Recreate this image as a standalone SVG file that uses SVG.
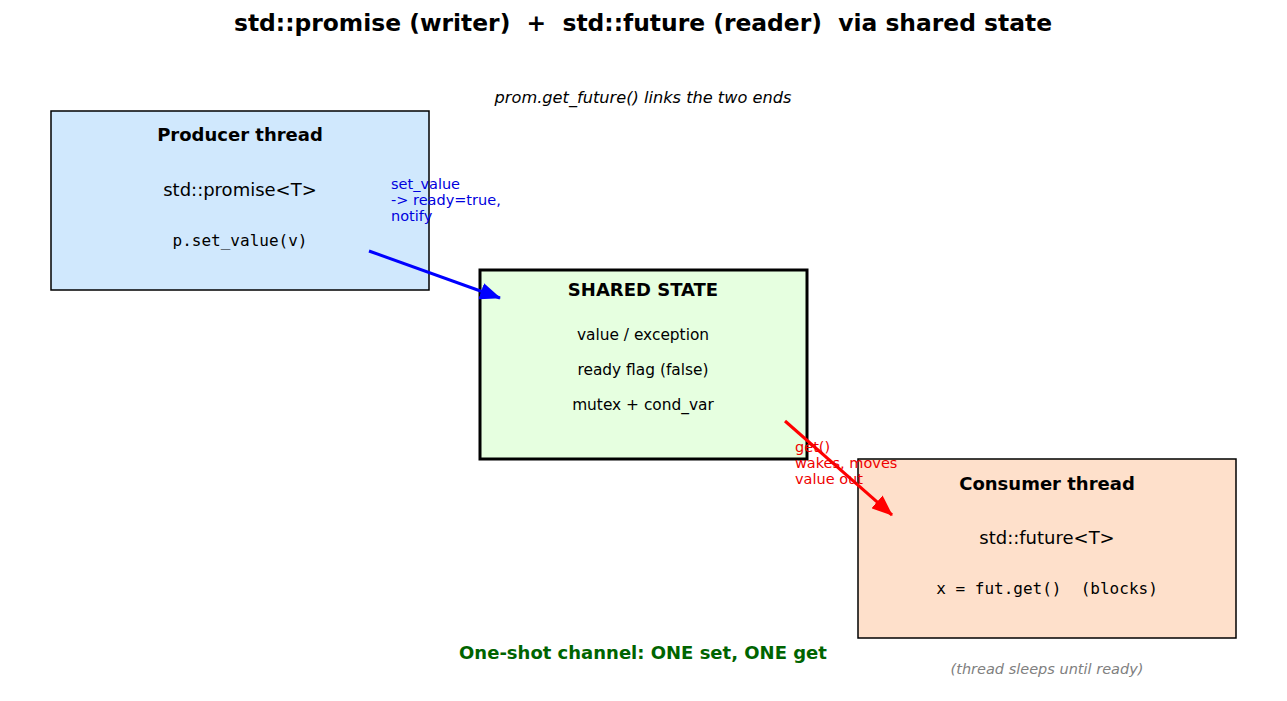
<svg xmlns="http://www.w3.org/2000/svg" width="1287" height="701" viewBox="0 0 1287 701" xml:space="preserve">
<style>
text{font-family:"DejaVu Sans",sans-serif;text-anchor:middle;fill:#000;white-space:pre}
.title{font-size:23.4px;font-weight:bold}
.sub{font-size:16.2px;font-style:italic}
.hd{font-size:18px;font-weight:bold}
.bd{font-size:18px}
.sm{font-size:15.4px}
.mono{font-family:"DejaVu Sans Mono",monospace;font-size:16px}
.lbl{font-size:14.5px;text-anchor:start}
.box{stroke:#000;stroke-width:1.5}
</style>
<defs>
<marker id="ab" viewBox="0 0 21 17" refX="20" refY="8.5" markerWidth="21" markerHeight="17" markerUnits="userSpaceOnUse" orient="auto"><path d="M0,0 L21,8.5 L0,17 Z" fill="#0000ff"/></marker>
<marker id="ar" viewBox="0 0 21 17" refX="20" refY="8.5" markerWidth="21" markerHeight="17" markerUnits="userSpaceOnUse" orient="auto"><path d="M0,0 L21,8.5 L0,17 Z" fill="#ff0000"/></marker>
</defs>
<rect width="1287" height="701" fill="#fff"/>
<text class="title" x="643" y="31">std::promise (writer)  +  std::future (reader)  via shared state</text>
<text class="sub" x="643" y="103">prom.get_future() links the two ends</text>
<g id="producer">
<rect class="box" x="51" y="111" width="378" height="179" fill="#d0e8fd"/>
<text class="hd" x="240" y="141">Producer thread</text>
<text class="bd" x="240" y="196">std::promise&lt;T&gt;</text>
<text class="mono" x="240" y="246">p.set_value(v)</text>
</g>
<g id="shared">
<rect x="480" y="270" width="327" height="189" fill="#e6ffe0" stroke="#000" stroke-width="3"/>
<text class="hd" x="643" y="296">SHARED STATE</text>
<text class="sm" x="643" y="340">value / exception</text>
<text class="sm" x="643" y="375">ready flag (false)</text>
<text class="sm" x="643" y="410">mutex + cond_var</text>
</g>
<g id="consumer">
<rect class="box" x="858" y="459" width="378" height="179" fill="#fee0cb"/>
<text class="hd" x="1047" y="490">Consumer thread</text>
<text class="bd" x="1047" y="544">std::future&lt;T&gt;</text>
<text class="mono" x="1047" y="594">x = fut.get()  (blocks)</text>
</g>
<g id="connectors">
<line x1="369" y1="251" x2="500" y2="298" stroke="#0000ff" stroke-width="3" marker-end="url(#ab)"/>
<text class="lbl" style="fill:#0000dd" x="391" y="189">set_value</text>
<text class="lbl" style="fill:#0000dd" x="391" y="205">-&gt; ready=true,</text>
<text class="lbl" style="fill:#0000dd" x="391" y="221">notify</text>
<line x1="785" y1="421" x2="892" y2="515" stroke="#ff0000" stroke-width="3" marker-end="url(#ar)"/>
<text class="lbl" style="fill:#ee0000" x="795" y="452">get()</text>
<text class="lbl" style="fill:#ee0000" x="795" y="468">wakes, moves</text>
<text class="lbl" style="fill:#ee0000" x="795" y="484">value out</text>
</g>
<text class="hd" style="fill:#006400" x="643" y="659">One-shot channel: ONE set, ONE get</text>
<text style="font-size:14.5px;font-style:italic;fill:#808080" x="1047" y="674">(thread sleeps until ready)</text>
</svg>
